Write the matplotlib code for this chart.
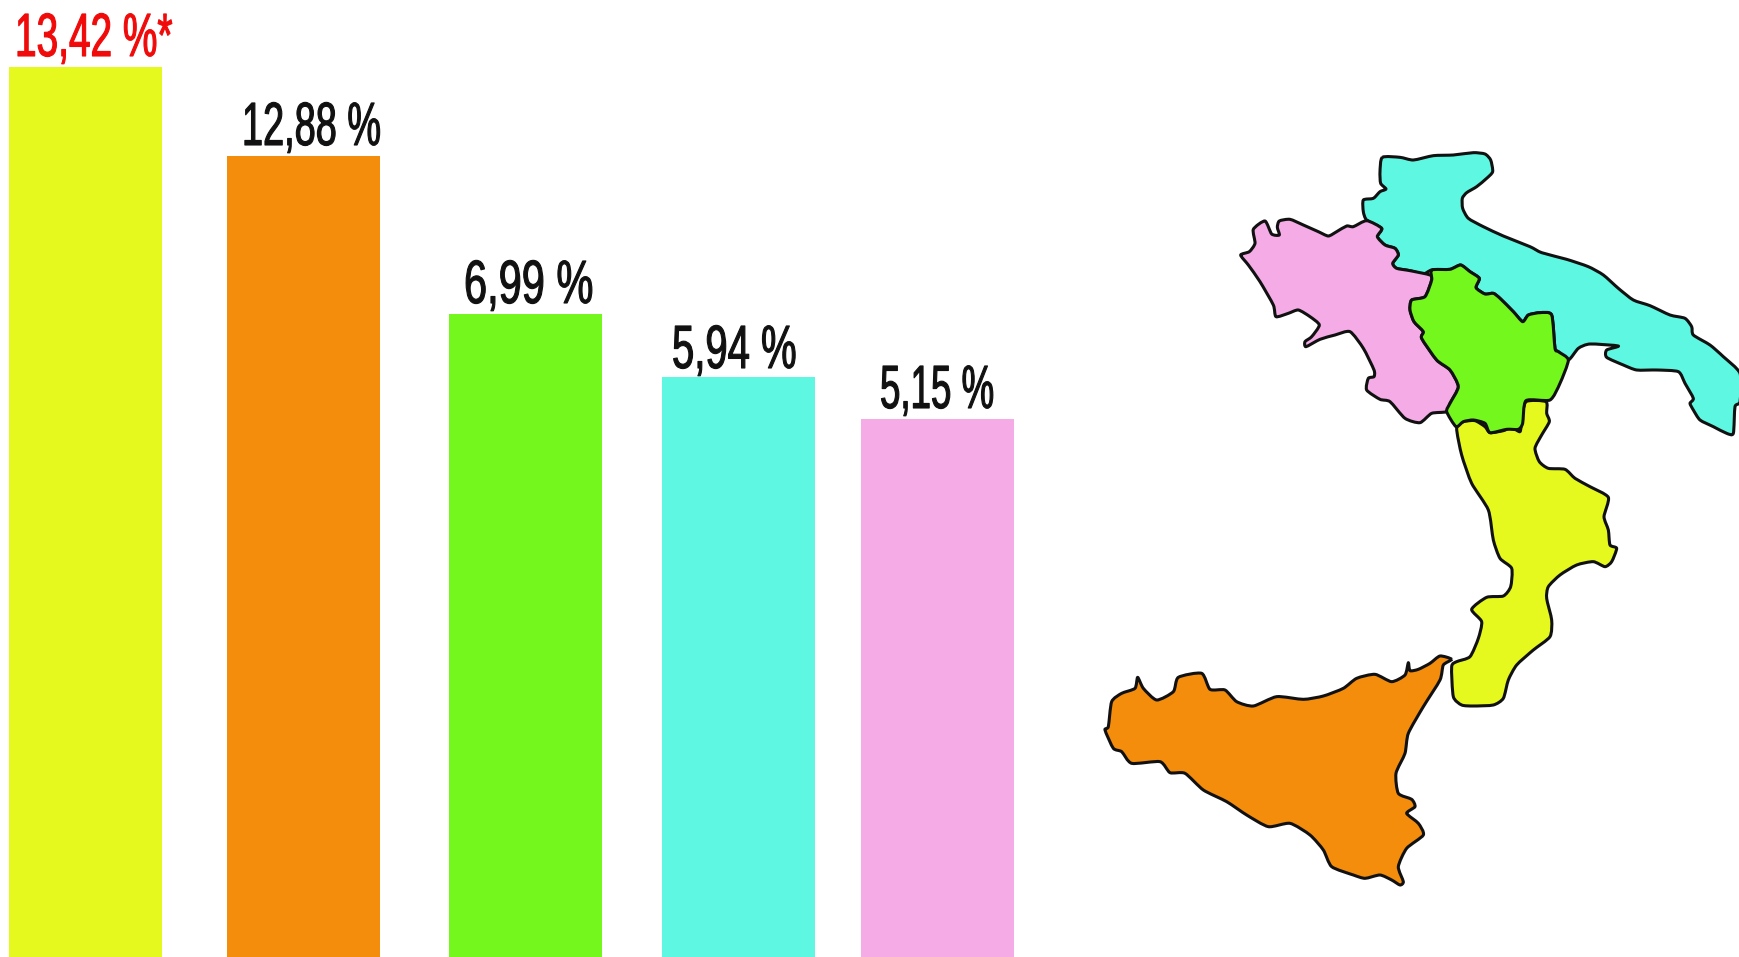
import matplotlib
matplotlib.use("Agg")
import matplotlib.pyplot as plt
from matplotlib.patches import PathPatch
from matplotlib.path import Path
from matplotlib.patheffects import AbstractPathEffect
from matplotlib.transforms import Affine2D

# ---- data ----
labels = ["13,42 %*", "12,88 %", "6,99 %", "5,94 %", "5,15 %"]
label_values = [13.42, 12.88, 6.99, 5.94, 5.15]
# drawn bar heights (the bars are not to scale with the labels)
bar_heights = [890, 801, 643, 580, 538]
bar_lefts = [9, 227, 449, 662, 861]
bar_width = 153
bar_colors = ["#E6F91E", "#F48C0C", "#74F71C", "#5EF8E2", "#F4ABE6"]
label_colors = ["#F00A0A", "#111111", "#111111", "#111111", "#111111"]
label_lefts = [15, 242, 464, 672, 880]
label_baselines = [56, 145, 303, 368, 408]
label_condense = [0.635, 0.62, 0.68, 0.655, 0.60]

puglia = [(487,52),(540,52),(580,60),(640,47),(700,45),(760,38),(795,42),(812,60),(818,95),(800,115),(770,140),(740,158),(727,175),(728,205),(745,235),(790,260),(850,288),(930,320),(965,338),(1040,358),(1105,380),(1150,405),(1195,445),(1240,480),(1290,497),(1350,525),(1395,535),(1415,560),(1420,585),(1470,615),(1510,650),(1560,700),(1560,785),(1545,800),(1540,880),(1520,880),(1480,860),(1440,840),(1420,810),(1410,790),(1420,775),(1395,730),(1375,695),(1310,690),(1250,690),(1210,675),(1160,652),(1160,630),(1195,618),(1110,612),(1075,625),(1045,660),(1015,635),(1005,625),(995,525),(960,518),(925,525),(908,545),(880,515),(840,475),(820,460),(795,462),(768,443),(778,415),(750,395),(722,375),(690,388),(635,390),(610,402),(570,392),(530,385),(518,370),(535,345),(525,325),(495,315),(472,290),(485,265),(440,240),(430,215),(430,180),(460,175),(480,155),(498,147),(482,130),(480,95)]
campania = [(440,242),(400,260),(380,258),(350,275),(325,288),(295,275),(250,255),(210,238),(178,243),(172,262),(178,285),(155,282),(135,243),(100,268),(105,310),(88,335),(62,345),(85,375),(120,425),(160,495),(168,530),(205,520),(235,510),(270,530),(298,555),(275,590),(255,605),(258,620),(300,598),(345,585),(390,575),(430,625),(462,690),(462,710),(445,715),(440,750),(480,778),(510,785),(555,835),(600,848),(635,820),(680,815),(690,790),(715,740),(690,690),(650,660),(605,595),(610,575),(582,545),(570,510),(575,480),(615,470),(635,420),(630,405),(570,392),(530,385),(518,370),(535,345),(525,325),(495,315),(472,290),(485,265)]
basilicata = [(635,390),(690,388),(722,375),(750,395),(778,415),(768,443),(795,462),(820,460),(840,475),(880,515),(908,545),(925,525),(960,518),(995,525),(1005,625),(1015,635),(1045,660),(1020,730),(990,780),(918,782),(908,850),(895,868),(860,868),(810,878),(795,850),(760,840),(730,845),(708,860),(680,815),(690,790),(715,740),(690,690),(650,660),(605,595),(610,575),(582,545),(570,510),(575,480),(615,470),(635,420)]
calabria = [(318,35),(378,35),(380,70),(388,95),(365,135),(345,175),(358,215),(385,235),(435,238),(465,265),(510,290),(565,322),(552,380),(565,420),(570,465),(590,475),(575,515),(555,530),(520,515),(470,525),(420,555),(385,590),(380,625),(395,690),(390,740),(340,780),(290,825),(265,870),(250,925),(220,945),(160,948),(125,945),(100,920),(95,830),(110,815),(150,800),(175,745),(185,695),(155,658),(200,622),(250,618),(272,590),(275,535),(240,505),(220,450),(205,360),(155,280),(125,195),(110,115),(130,95),(165,92),(195,110),(210,128),(250,122),(275,112),(300,125),(305,90)]
sicilia = [(1085,58),(1050,48),(1020,70),(985,88),(960,92),(955,68),(945,105),(905,125),(855,103),(800,115),(760,145),(700,168),(640,178),(560,170),(490,198),(440,185),(405,150),(360,148),(335,100),(265,112),(250,155),(200,180),(160,145),(143,112),(135,145),(95,160),(65,185),(55,260),(45,270),(70,325),(95,335),(125,370),(210,365),(240,398),(285,400),(340,450),(410,485),(470,525),(535,560),(600,550),(660,585),(700,630),(725,680),(790,705),(825,715),(870,705),(905,720),(930,735),(940,725),(925,680),(950,625),(1000,585),(985,550),(950,520),(975,500),(965,478),(925,460),(918,400),(945,340),(955,280),(1000,200),(1050,120),(1060,75)]
map_frames = {"north": (1220, 140), "calabria": (1420, 390), "sicilia": (1090, 640)}

# ---- drawing ----
W, H = 1739, 957
plt.rcParams["font.family"] = ["Liberation Sans", "DejaVu Sans"]
fig = plt.figure(figsize=(W / 100, H / 100), dpi=100, facecolor="white")
ax = fig.add_axes([0, 0, 1, 1])
ax.set_xlim(0, W)
ax.set_ylim(0, H)
ax.axis("off")

ax.bar(bar_lefts, bar_heights, width=bar_width, align="edge", color=bar_colors, linewidth=0, zorder=1)


class Condense(AbstractPathEffect):
    """Narrows the glyphs of a real text, since no condensed face is installed."""

    def __init__(self, factor, stroke):
        super().__init__()
        self.factor = factor
        self.stroke = stroke

    def draw_path(self, renderer, gc, tpath, affine, rgbFace=None):
        gc0 = renderer.new_gc()
        gc0.copy_properties(gc)
        gc0.set_linewidth(self.stroke)
        gc0.set_foreground(rgbFace)
        renderer.draw_path(gc0, tpath, Affine2D().scale(self.factor, 1) + affine, rgbFace)
        gc0.restore()


for text, col, left, base, squeeze in zip(labels, label_colors, label_lefts, label_baselines, label_condense):
    ax.text(left, H - base, text, color=col, ha="left", va="baseline", fontsize=44,
            path_effects=[Condense(squeeze, 0.8)])


def outline(points, frame, color):
    ox, oy = map_frames[frame]
    xy = [(ox + x / 3, H - (oy + y / 3)) for x, y in points]
    n = len(xy)
    verts = [xy[0]]
    codes = [Path.MOVETO]
    for i in range(n):
        p0, p1, p2, p3 = xy[i - 1], xy[i], xy[(i + 1) % n], xy[(i + 2) % n]
        c1 = (p1[0] + (p2[0] - p0[0]) / 9, p1[1] + (p2[1] - p0[1]) / 9)
        c2 = (p2[0] - (p3[0] - p1[0]) / 9, p2[1] - (p3[1] - p1[1]) / 9)
        verts += [c1, c2, p2]
        codes += [Path.CURVE4] * 3
    ax.add_patch(PathPatch(Path(verts, codes), facecolor=color, edgecolor="#111111",
                           linewidth=2.2, joinstyle="round", zorder=2))


outline(puglia, "north", bar_colors[3])
outline(campania, "north", bar_colors[4])
outline(calabria, "calabria", bar_colors[0])
outline(basilicata, "north", bar_colors[2])
outline(sicilia, "sicilia", bar_colors[1])

fig.savefig("out.png", dpi=100, facecolor="white")
